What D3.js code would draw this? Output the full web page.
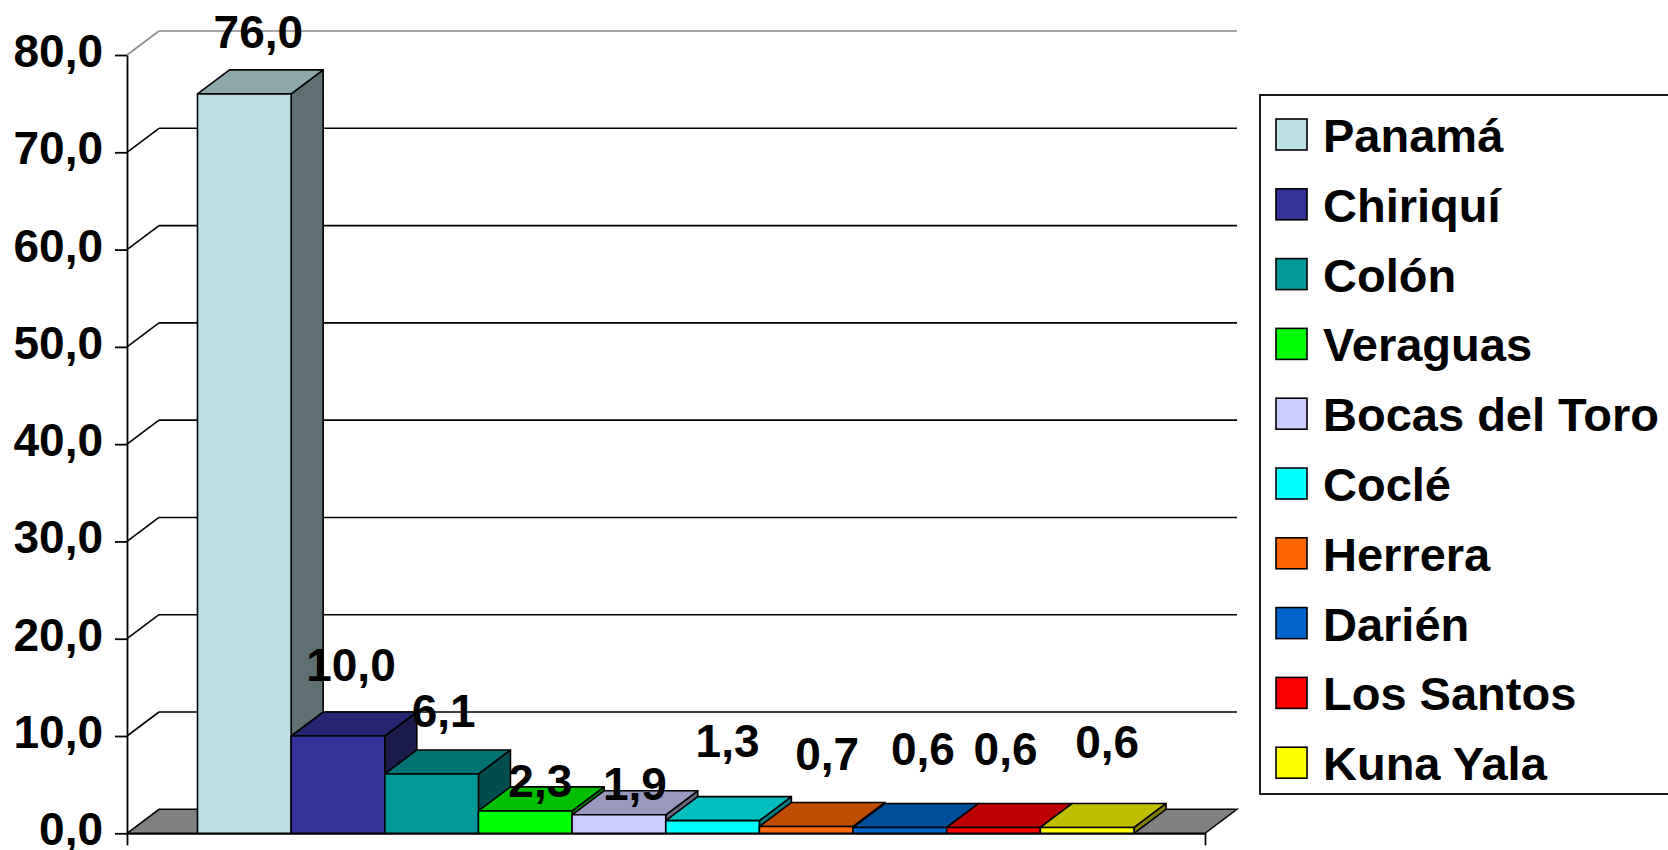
<!DOCTYPE html>
<html>
<head>
<meta charset="utf-8">
<script src="https://cdn.jsdelivr.net/npm/d3@7"></script>
<style>
  body { margin: 0; background: #fff; }
  svg text { font-family: "Liberation Sans", Arial, sans-serif; font-weight: bold; fill: #000; }
</style>
</head>
<body>
<svg id="chart"></svg>
<script>
const provinces = ['Panamá', 'Chiriquí', 'Colón', 'Veraguas', 'Bocas del Toro', 'Coclé', 'Herrera', 'Darién', 'Los Santos', 'Kuna Yala'];
const shares = [76.0, 10.0, 6.1, 2.3, 1.9, 1.3, 0.7, 0.6, 0.6, 0.6];
const yTicks = [0, 10, 20, 30, 40, 50, 60, 70, 80];
const colors = ['#BBE0E3', '#333399', '#009999', '#00FF00', '#CCCCFF', '#00FFFF', '#FF6600', '#0066CC', '#FF0000', '#FFFF00'];

const width = 1668, height = 850;
// 3d depth of floor / walls / bars
const DX = 32, DY = -24;
// label nudges (excel puts 3d labels a bit irregularly)
const labelDx = [14, 13, 12, 15, 16, 15, 21, 23, 12, 20];
const labelDy = [-46, -55, -47, -14, -15, -64, -56, -62, -62, -69];

const svg = d3.select('#chart').attr('width', width).attr('height', height);

const y = d3.scaleLinear().domain([0, 80]).range([833.3, 55]);
const x = d3.scaleBand().domain(provinces).range([197.5, 1134]).paddingInner(0);
const xFloor = d3.scaleLinear().domain([0, 1]).range([127, 1205]);
const fmt = d3.formatLocale({decimal: ',', thousands: '.', grouping: [3], currency: ['', '']}).format('.1f');

const shade = (c, f) => { const r = d3.rgb(c); return d3.rgb(r.r * f, r.g * f, r.b * f).formatHex(); };

// back wall gridlines + left wall diagonals
const grid = svg.append('g');
yTicks.filter(t => t > 0).forEach(t => {
  const col = t === 80 ? '#8a8a8a' : '#000';
  grid.append('line')
    .attr('x1', xFloor(0) + DX).attr('x2', xFloor(1) + DX)
    .attr('y1', y(t) + DY).attr('y2', y(t) + DY)
    .attr('stroke', col).attr('stroke-width', 1.6);
  grid.append('line')
    .attr('x1', xFloor(0)).attr('x2', xFloor(0) + DX)
    .attr('y1', y(t)).attr('y2', y(t) + DY)
    .attr('stroke', col).attr('stroke-width', 1.6);
});

// floor
svg.append('path')
  .attr('d', `M${xFloor(0)},${y(0)} L${xFloor(0) + DX},${y(0) + DY} L${xFloor(1) + DX},${y(0) + DY} L${xFloor(1)},${y(0)} Z`)
  .attr('fill', '#808080').attr('stroke', '#000').attr('stroke-width', 1.5);

// bars, left to right so each one covers the side of the previous
const bars = svg.append('g');
provinces.forEach((p, i) => {
  const x0 = x(p), x1 = x(p) + x.bandwidth();
  const yt = y(shares[i]), yb = y(0);
  const g = bars.append('g').attr('stroke', '#000').attr('stroke-width', 1.6).attr('stroke-linejoin', 'round');
  g.append('path') // side
    .attr('d', `M${x1},${yb} L${x1 + DX},${yb + DY} L${x1 + DX},${yt + DY} L${x1},${yt} Z`)
    .attr('fill', shade(colors[i], 0.5));
  g.append('path') // top
    .attr('d', `M${x0},${yt} L${x0 + DX},${yt + DY} L${x1 + DX},${yt + DY} L${x1},${yt} Z`)
    .attr('fill', shade(colors[i], 0.75));
  g.append('rect') // front
    .attr('x', x0).attr('y', yt)
    .attr('width', x.bandwidth()).attr('height', yb - yt)
    .attr('fill', colors[i]);
});

// value labels
svg.append('g').selectAll('text')
  .data(shares)
  .enter().append('text')
  .attr('x', (d, i) => x(provinces[i]) + x.bandwidth() / 2 + labelDx[i])
  .attr('y', (d, i) => y(d) + labelDy[i])
  .attr('text-anchor', 'middle')
  .style('font-size', '46px')
  .text(d => fmt(d));

// y axis
const yAxis = svg.append('g')
  .attr('transform', `translate(${xFloor(0)},0)`)
  .call(d3.axisLeft(y).tickValues(yTicks).tickSize(12).tickSizeOuter(0).tickPadding(12).tickFormat(fmt));
yAxis.select('.domain').attr('stroke', '#000').attr('stroke-width', 1.8);
yAxis.selectAll('.tick line').attr('stroke', '#000').attr('stroke-width', 1.8);
yAxis.selectAll('.tick text')
  .attr('dy', null).attr('y', 11.5)
  .style('font-size', '46px').style('font-family', '"Liberation Sans", Arial, sans-serif').style('font-weight', 'bold');

// category axis (one group, ticks at both ends)
const xAxis = svg.append('g')
  .attr('transform', `translate(0,${y(0)})`)
  .call(d3.axisBottom(xFloor).tickValues([0, 1]).tickSize(12).tickSizeOuter(0).tickFormat(''));
xAxis.select('.domain').attr('stroke', '#000').attr('stroke-width', 1.8);
xAxis.selectAll('.tick line').attr('stroke', '#000').attr('stroke-width', 1.8);

// legend
const legend = svg.append('g');
legend.append('rect')
  .attr('x', 1260).attr('y', 95).attr('width', 440).attr('height', 699)
  .attr('fill', '#fff').attr('stroke', '#000').attr('stroke-width', 1.8);
const item = legend.selectAll('g.item')
  .data(provinces)
  .enter().append('g')
  .attr('class', 'item')
  .attr('transform', (d, i) => `translate(1276,${152 + i * 69.8})`);
item.append('rect')
  .attr('x', 0).attr('y', -33).attr('width', 31).attr('height', 31)
  .attr('fill', (d, i) => colors[i]).attr('stroke', '#000').attr('stroke-width', 1.6);
item.append('text')
  .attr('x', 47).attr('y', 0)
  .style('font-size', '47px')
  .text(d => d);
</script>
</body>
</html>
